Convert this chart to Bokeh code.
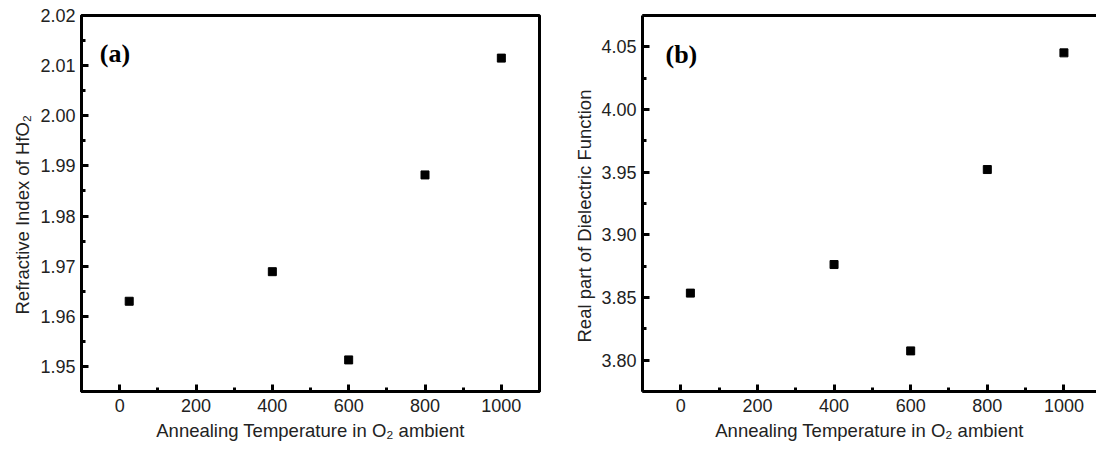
from bokeh.plotting import figure
from bokeh.layouts import row
from bokeh.models import Range1d, FixedTicker, LinearAxis, Label, Title, NumeralTickFormatter
from bokeh.embed import file_html
from bokeh.resources import INLINE

# ---- data ----
temps = [25, 400, 600, 800, 1000]
refr_index = [1.9630, 1.9689, 1.9513, 1.9882, 2.0115]
diel_real = [3.8535, 3.8763, 3.8074, 3.9521, 4.0452]

x_ticks = [0, 200, 400, 600, 800, 1000]
x_minor = [-100, 100, 300, 500, 700, 900, 1100]
a_y_ticks = [1.95, 1.96, 1.97, 1.98, 1.99, 2.00, 2.01, 2.02]
a_y_minor = [1.945, 1.955, 1.965, 1.975, 1.985, 1.995, 2.005, 2.015]
b_y_ticks = [3.80, 3.85, 3.90, 3.95, 4.00, 4.05]
b_y_minor = [3.775, 3.825, 3.875, 3.925, 3.975, 4.025, 4.075]

x_title = "Annealing Temperature in O\u2082 ambient"
a_y_title = "Refractive Index of HfO\u2082"
b_y_title = "Real part of Dielectric Function"

SANS = "Liberation Sans"
TXT = "#222222"


def style_axis(ax, standoff):
    ax.axis_line_width = 3
    ax.axis_line_color = "black"
    ax.major_tick_in = 7
    ax.major_tick_out = 0
    ax.minor_tick_in = 4
    ax.minor_tick_out = 0
    ax.major_tick_line_width = 3
    ax.minor_tick_line_width = 3
    ax.major_tick_line_color = "black"
    ax.minor_tick_line_color = "black"
    ax.major_label_text_font = SANS
    ax.major_label_text_font_size = "18px"
    ax.major_label_text_color = TXT
    ax.major_label_standoff = standoff
    ax.axis_label_text_font = SANS
    ax.axis_label_text_font_size = "18.5px"
    ax.axis_label_text_font_style = "normal"
    ax.axis_label_text_color = TXT


def make(width, yr, yt, ymin, yvals, ytitle, ytitle_standoff, ytitle_offset,
         tag, tag_x, tag_y, border_left, border_right, border_bottom, xr, full_box):
    p = figure(width=width, height=455, x_range=Range1d(*xr), y_range=Range1d(*yr),
               output_backend="svg", toolbar_location=None,
               min_border_left=border_left, min_border_right=border_right,
               min_border_top=15, min_border_bottom=border_bottom)
    p.xgrid.visible = False
    p.ygrid.visible = False
    p.background_fill_color = "white"
    p.border_fill_color = "white"

    xa = p.below[0]
    xa.ticker = FixedTicker(ticks=x_ticks, minor_ticks=x_minor)
    xa.formatter = NumeralTickFormatter(format="0")
    xa.axis_label = x_title
    style_axis(xa, 7)
    xa.axis_label_standoff = 5

    ya = p.left[0]
    ya.ticker = FixedTicker(ticks=yt, minor_ticks=ymin)
    ya.formatter = NumeralTickFormatter(format="0.00")
    style_axis(ya, 6)

    p.add_layout(Title(text=ytitle, align="left", offset=ytitle_offset,
                       standoff=ytitle_standoff, text_font=SANS,
                       text_font_size="18.5px", text_font_style="normal",
                       text_color=TXT), "left")

    if full_box:
        p.outline_line_color = "black"
        p.outline_line_width = 3
        p.outline_line_alpha = 1
    else:
        p.outline_line_color = None
        top = LinearAxis(ticker=FixedTicker(ticks=[]), major_tick_in=0, major_tick_out=0,
                         minor_tick_in=0, minor_tick_out=0, major_label_standoff=0,
                         axis_line_width=3, axis_line_color="black",
                         major_label_text_font_size="0px")
        p.add_layout(top, "above")

    p.scatter(temps, yvals, marker="square", size=8,
              fill_color="black", line_color="black")

    p.add_layout(Label(x=tag_x, y=tag_y, text=tag, text_align="left",
                       text_baseline="alphabetic", text_font="Liberation Serif",
                       text_font_style="bold", text_font_size="26px", text_color="black"))
    return p


p1 = make(560, (1.945, 2.02), a_y_ticks, a_y_minor, refr_index, a_y_title, 10, 77,
          "(a)", -52, 2.0124, 81, 21, 63, (-100, 1100), True)
p2 = make(536, (3.775, 4.075), b_y_ticks, b_y_minor, diel_real, b_y_title, 7, 49,
          "(b)", -40, 4.0441, 82, 0, 64, (-100, 1085), False)

layout = row(p1, p2)
open("out.html", "w").write(file_html(layout, INLINE))
